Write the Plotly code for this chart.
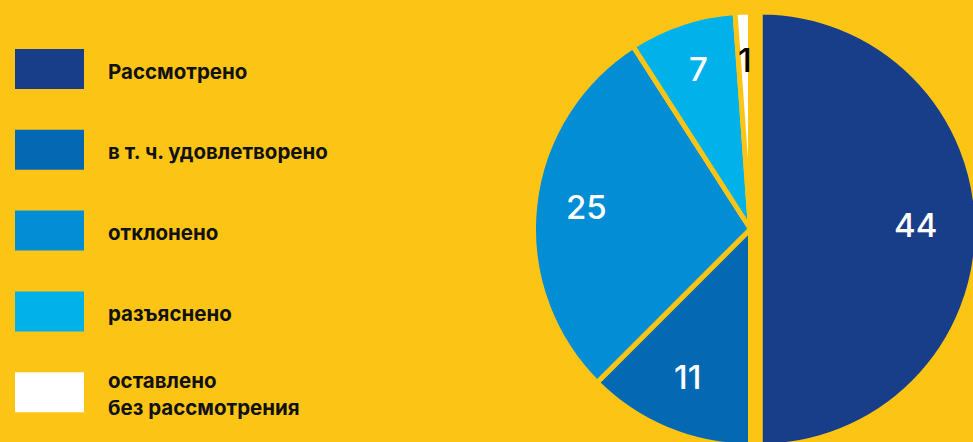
import numpy as np
import plotly.graph_objects as go

labels = ["Рассмотрено", "в т. ч. удовлетворено", "отклонено", "разъяснено", "оставлено<br>без рассмотрения"]
values = [44, 11, 25, 7, 1]
colors = ["#183E8A", "#0568B2", "#028DD5", "#00B1EA", "#FFFFFF"]
text_colors = ["#FFFFFF", "#FFFFFF", "#FFFFFF", "#FFFFFF", "#000000"]
pulls = [0.045, 0, 0, 0, 0]

BG = "#FCC515"
# the reference crops the pie at its right and bottom edges, so the figure is a bit
# larger than the 973x442 window and the page clips it
WF, HF = 990, 460
CX, CY = 750.5, 229.0        # pie centre, px from the top-left corner
R_PATH = 217.0               # pie radius in px
MAXPULL = max(pulls)
HALF = R_PATH * (1 + MAXPULL)
DOM_X = [(CX - HALF) / WF, (CX + HALF) / WF]
DOM_Y = [(HF - CY - HALF) / HF, (HF - CY + HALF) / HF]
LABEL_R = 0.76

fig = go.Figure(go.Pie(
    labels=labels,
    values=values,
    sort=False,
    direction="clockwise",
    rotation=0,
    pull=pulls,
    marker=dict(colors=colors, line=dict(color=BG, width=5)),
    textinfo="none",
    domain=dict(x=DOM_X, y=DOM_Y),
    showlegend=False,
    hoverinfo="label+value",
))

# invisible cartesian axes whose unit is one pie radius, origin at the pie centre
fig.update_xaxes(range=[-CX / R_PATH, (WF - CX) / R_PATH], visible=False, domain=[0, 1])
fig.update_yaxes(range=[-(HF - CY) / R_PATH, CY / R_PATH], visible=False, domain=[0, 1])

# value labels at each slice's mid-angle
vals = np.array(values, dtype=float)
cum = np.cumsum(vals)
mid = np.deg2rad((cum - vals / 2) / vals.sum() * 360.0)
annotations = []
for v, a, tc in zip(values, mid, text_colors):
    annotations.append(dict(xref="x", yref="y", x=LABEL_R * np.sin(a), y=LABEL_R * np.cos(a),
                            text=str(v), showarrow=False, xanchor="center", yanchor="middle", yshift=4,
                            font=dict(family="Inter", size=33, color=tc, weight=500)))

# legend drawn manually (large swatches)
sw_x0, sw_x1 = 15, 84
top0, step, sw_h = 49, 80.8, 40
shapes = []
for i, (lab, col) in enumerate(zip(labels, colors)):
    y0 = top0 + i * step
    shapes.append(dict(type="rect", xref="paper", yref="paper",
                       x0=sw_x0 / WF, x1=sw_x1 / WF,
                       y0=1 - (y0 + sw_h) / HF, y1=1 - y0 / HF,
                       fillcolor=col, line=dict(width=0), layer="above"))
    annotations.append(dict(xref="paper", yref="paper", x=106 / WF, y=1 - (y0 + sw_h / 2 + 2) / HF,
                            text=lab, showarrow=False, xanchor="left", yanchor="middle", align="left",
                            font=dict(family="Inter", size=20.5, color="#111111", weight=700)))

fig.update_layout(
    width=WF, height=HF,
    margin=dict(l=0, r=0, t=0, b=0),
    paper_bgcolor=BG, plot_bgcolor="rgba(0,0,0,0)",
    shapes=shapes, annotations=annotations,
)

fig.write_html("out.html", config={"displayModeBar": False},
               post_script="document.body.style.margin='0';document.body.style.overflow='hidden';")
